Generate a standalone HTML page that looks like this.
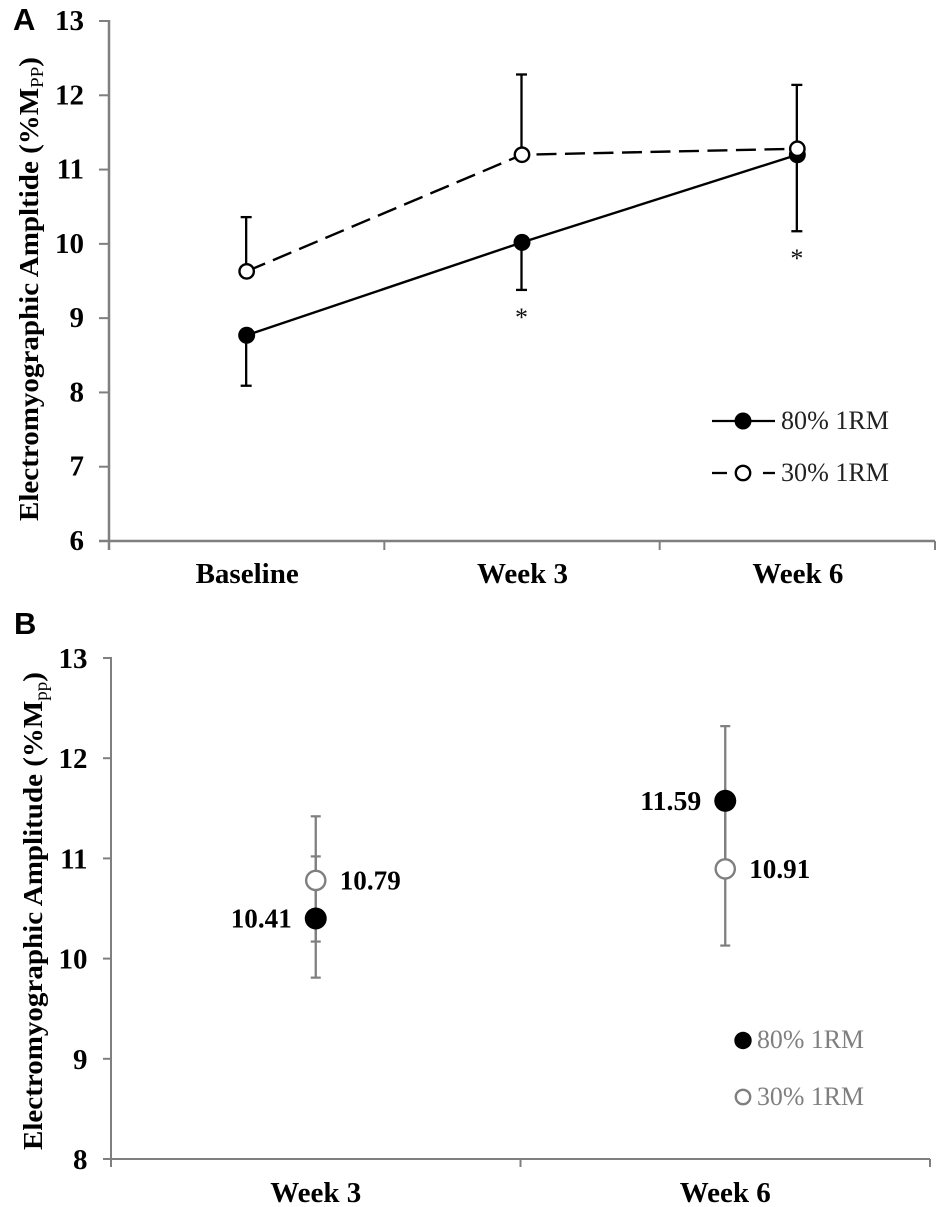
<!DOCTYPE html>
<html>
<head>
<meta charset="utf-8">
<style>
html,body{margin:0;padding:0;background:#fff;}
svg{display:block;}
text{font-family:"Liberation Serif",serif;}
.panel-letter{font-family:"Liberation Sans",sans-serif;font-weight:700;font-size:31px;fill:#000;}
.b{font-weight:700;fill:#000;}
</style>
</head>
<body>
<svg id="chart" width="945" height="1207" viewBox="0 0 945 1207" xmlns="http://www.w3.org/2000/svg">
  <rect x="0" y="0" width="945" height="1207" fill="#fff"/>
  <text class="panel-letter" x="13" y="30">A</text>
  <text class="panel-letter" x="14" y="634">B</text>
  <text class="b" transform="translate(38,289) rotate(-90)" text-anchor="middle" font-size="27.5" textLength="464" lengthAdjust="spacingAndGlyphs">Electromyographic Ampltide (%M<tspan font-size="18" dy="5" font-weight="400">PP</tspan><tspan dy="-5">)</tspan></text>
  <text class="b" transform="translate(42,911) rotate(-90)" text-anchor="middle" font-size="27.5" textLength="478" lengthAdjust="spacingAndGlyphs">Electromyographic Amplitude (%M<tspan font-size="18" dy="5" font-weight="400">pp</tspan><tspan dy="-5">)</tspan></text>
  <g id="panel-a"></g>
  <g id="panel-b"></g>
</svg>
<script>
// Panel A data
const aCategories = ['Baseline', 'Week 3', 'Week 6'];
const aTicks = [6, 7, 8, 9, 10, 11, 12, 13];
const a80 = [8.77, 10.02, 11.2];
const a80Lower = [8.09, 9.38, 10.17];
const a30 = [9.63, 11.2, 11.28];
const a30Upper = [10.36, 12.28, 12.14];
const aSignificant = [false, true, true];
const aLegend = ['80% 1RM', '30% 1RM'];

// Panel B data
const bCategories = ['Week 3', 'Week 6'];
const bTicks = [8, 9, 10, 11, 12, 13];
const b80 = [10.4, 11.575];
const b80Lower = [9.81, 10.86];
const b80Upper = [11.02, 12.32];
const b30 = [10.78, 10.895];
const b30Lower = [10.17, 10.13];
const b30Upper = [11.42, 11.66];
const b80Labels = ['10.41', '11.59'];
const b30Labels = ['10.79', '10.91'];
const bLegend = ['80% 1RM', '30% 1RM'];

const NS = 'http://www.w3.org/2000/svg';
const GREY = '#7f7f7f';

function make(parent, tag, props, content) {
  const el = document.createElementNS(NS, tag);
  for (const k in props) el.setAttribute(k, props[k]);
  if (content !== undefined) el.textContent = content;
  parent.appendChild(el);
  return el;
}

// Axis functions
const aLeft = 109, aRight = 935, aTop = 21, aBottom = 541;
const bLeft = 111, bRight = 930, bTop = 658, bBottom = 1159;
function yA(v) { return aBottom - (v - aTicks[0]) / (aTicks[aTicks.length - 1] - aTicks[0]) * (aBottom - aTop); }
function xA(i) { return aLeft + (i + 0.5) / aCategories.length * (aRight - aLeft); }
function yB(v) { return bBottom - (v - bTicks[0]) / (bTicks[bTicks.length - 1] - bTicks[0]) * (bBottom - bTop); }
function xB(i) { return bLeft + (i + 0.5) / bCategories.length * (bRight - bLeft); }

const pA = document.getElementById('panel-a');
const pB = document.getElementById('panel-b');

/* ---------- Panel A axes ---------- */
let el = make(pA, 'line', {x1: aLeft, x2: aLeft, y1: aTop - 1, y2: aBottom + 9, stroke: GREY, 'stroke-width': 2.5});


el = make(pA, 'line', {x1: aLeft - 10, x2: aRight, y1: aBottom, y2: aBottom, stroke: GREY, 'stroke-width': 2.5});



aTicks.forEach(function (t) {
  let m = make(pA, 'line', {x1: aLeft - 10, x2: aLeft, y1: yA(t), y2: yA(t), stroke: GREY, 'stroke-width': 2});
  
  
  m = make(pA, 'text', {x: 84, y: yA(t) + 9, 'text-anchor': 'end', 'font-size': 29, class: 'b'}, String(t));
  
  
});
for (let i = 1; i <= aCategories.length; i++) {
  const x = aLeft + i / aCategories.length * (aRight - aLeft);
  const m = make(pA, 'line', {x1: x, x2: x, y1: aBottom, y2: aBottom + 9, stroke: GREY, 'stroke-width': 2});
  
  
}
aCategories.forEach(function (c, i) {
  const m = make(pA, 'text', {x: xA(i) + 0.5, y: 583, 'text-anchor': 'middle', 'font-size': 29, class: 'b'}, c);
  
  
});

/* ---------- Panel A error bars ---------- */
function errA(v, end, i) {
  const x = xA(i) - 0.5;
  let m = make(pA, 'line', {x1: x, x2: x, y1: yA(v[i]), y2: yA(end[i]), stroke: '#000', 'stroke-width': 2.3});
  
  
  m = make(pA, 'line', {x1: x - 5.5, x2: x + 5.5, y1: yA(end[i]), y2: yA(end[i]), stroke: '#000', 'stroke-width': 2.3});
  
  
}
a80.forEach(function (_, i) { errA(a80, a80Lower, i); });
a30.forEach(function (_, i) { errA(a30, a30Upper, i); });

/* ---------- Panel A series lines ---------- */
el = make(pA, 'polyline', {points: a80.map(function (v, i) { return xA(i) + ',' + yA(v); }).join(' '), fill: 'none', stroke: '#000', 'stroke-width': 2.4});


el = make(pA, 'polyline', {points: a30.map(function (v, i) { return xA(i) + ',' + yA(v); }).join(' '), fill: 'none', stroke: '#000', 'stroke-width': 2.4, 'stroke-dasharray': '20 8.5'});



/* ---------- Panel A markers ---------- */
a80.forEach(function (v, i) {
  const m = make(pA, 'circle', {cx: xA(i), cy: yA(v), r: 8.5, fill: '#000'});
  
  
});
a30.forEach(function (v, i) {
  const m = make(pA, 'circle', {cx: xA(i), cy: yA(v), r: 7.2, fill: '#fff', stroke: '#000', 'stroke-width': 2.4});
  
  
});
aSignificant.forEach(function (s, i) {
  if (!s) return;
  const m = make(pA, 'text', {x: xA(i) - 0.5, y: yA(a80Lower[i]) + 36, 'text-anchor': 'middle', 'font-size': 26, fill: '#111'}, '*');
  
  
});

/* ---------- Panel A legend ---------- */
el = make(pA, 'line', {x1: 712, x2: 775, y1: 421, y2: 421, stroke: '#000', 'stroke-width': 2.3});


el = make(pA, 'circle', {cx: 743, cy: 421, r: 8.5, fill: '#000'});


el = make(pA, 'text', {x: 781, y: 429, 'font-size': 26, fill: '#222', textLength: 108, lengthAdjust: 'spacingAndGlyphs'}, aLegend[0]);


el = make(pA, 'line', {x1: 712, x2: 727, y1: 473, y2: 473, stroke: '#000', 'stroke-width': 2.3});


el = make(pA, 'line', {x1: 763, x2: 775, y1: 473, y2: 473, stroke: '#000', 'stroke-width': 2.3});


el = make(pA, 'circle', {cx: 743, cy: 473, r: 7.2, fill: '#fff', stroke: '#000', 'stroke-width': 2.4});


el = make(pA, 'text', {x: 781, y: 481, 'font-size': 26, fill: '#222', textLength: 108, lengthAdjust: 'spacingAndGlyphs'}, aLegend[1]);



/* ---------- Panel B axes ---------- */
el = make(pB, 'line', {x1: bLeft, x2: bLeft, y1: bTop - 1, y2: bBottom, stroke: GREY, 'stroke-width': 2});


el = make(pB, 'line', {x1: bLeft, x2: bRight, y1: bBottom, y2: bBottom, stroke: GREY, 'stroke-width': 2});



bTicks.forEach(function (t) {
  let m = make(pB, 'line', {x1: bLeft - 8, x2: bLeft, y1: yB(t), y2: yB(t), stroke: GREY, 'stroke-width': 2});
  
  
  m = make(pB, 'text', {x: 87.5, y: yB(t) + 10, 'text-anchor': 'end', 'font-size': 29, class: 'b'}, String(t));
  
  
});
for (let i = 0; i <= bCategories.length; i++) {
  const x = bLeft + i / bCategories.length * (bRight - bLeft);
  const m = make(pB, 'line', {x1: x, x2: x, y1: bBottom, y2: bBottom + 8, stroke: GREY, 'stroke-width': 2});
  
  
}
bCategories.forEach(function (c, i) {
  const m = make(pB, 'text', {x: xB(i), y: 1202, 'text-anchor': 'middle', 'font-size': 29, class: 'b'}, c);
  
  
});

/* ---------- Panel B error bars ---------- */
function errB(i, lo, hi) {
  const x = xB(i);
  let m = make(pB, 'line', {x1: x, x2: x, y1: yB(lo), y2: yB(hi), stroke: GREY, 'stroke-width': 2.3});
  
  
  m = make(pB, 'line', {x1: x - 5, x2: x + 5, y1: yB(lo), y2: yB(lo), stroke: GREY, 'stroke-width': 2.2});
  
  
  m = make(pB, 'line', {x1: x - 5, x2: x + 5, y1: yB(hi), y2: yB(hi), stroke: GREY, 'stroke-width': 2.2});
  
  
}
b80.forEach(function (_, i) { errB(i, b80Lower[i], b80Upper[i]); });
b30.forEach(function (_, i) { errB(i, b30Lower[i], b30Upper[i]); });

/* ---------- Panel B markers and value labels ---------- */
b30.forEach(function (v, i) {
  let m = make(pB, 'circle', {cx: xB(i), cy: yB(v), r: 9.6, fill: '#fff', stroke: GREY, 'stroke-width': 2.4});
  
  
  m = make(pB, 'text', {x: xB(i) + 24, y: yB(v) + 9, 'font-size': 27, class: 'b', textLength: 61, lengthAdjust: 'spacingAndGlyphs'}, b30Labels[i]);
  
  
});
b80.forEach(function (v, i) {
  let m = make(pB, 'circle', {cx: xB(i), cy: yB(v), r: 11, fill: '#000'});
  
  
  m = make(pB, 'text', {x: xB(i) - 85, y: yB(v) + 9, 'font-size': 27, class: 'b', textLength: 61, lengthAdjust: 'spacingAndGlyphs'}, b80Labels[i]);
  
  
});

/* ---------- Panel B legend ---------- */
el = make(pB, 'circle', {cx: 743, cy: 1040.5, r: 8.7, fill: '#000'});


el = make(pB, 'text', {x: 757, y: 1048, 'font-size': 26, fill: GREY, textLength: 107, lengthAdjust: 'spacingAndGlyphs'}, bLegend[0]);


el = make(pB, 'circle', {cx: 743, cy: 1097, r: 7.2, fill: '#fff', stroke: GREY, 'stroke-width': 2.4});


el = make(pB, 'text', {x: 757, y: 1105, 'font-size': 26, fill: GREY, textLength: 107, lengthAdjust: 'spacingAndGlyphs'}, bLegend[1]);


</script>
</body>
</html>
